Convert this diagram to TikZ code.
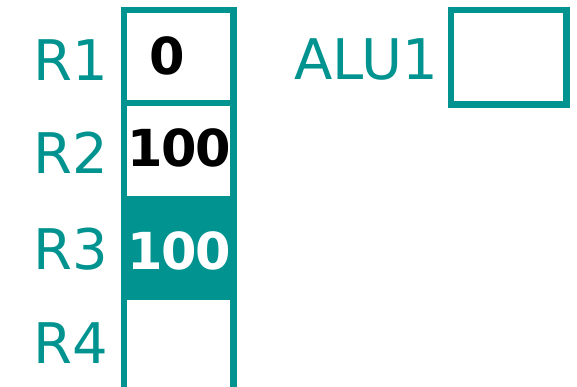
\documentclass[tikz,border=0pt]{standalone}
\usepackage{fontspec}
\setmainfont{DejaVu Sans}
\newfontfamily\valfont[LetterSpace=-3]{DejaVu Sans Bold}
\definecolor{teal1}{RGB}{0,147,143}
\begin{document}
\begin{tikzpicture}[x=1pt,y=-1pt,
  cell/.style={draw=teal1,line width=6.5pt,minimum width=109.5pt,minimum height=96.5pt,inner sep=0pt,outer sep=0pt},
  lbl/.style={text=teal1,font=\fontsize{56}{60}\selectfont,anchor=base,inner sep=0pt},
  val/.style={font=\fontsize{51}{56}\selectfont\valfont,anchor=base,inner sep=0pt}]
\useasboundingbox (0,0) rectangle (577,386);
\node[cell,minimum height=93pt] (c1) at (178.75,56.5) {};
\node[cell] (c2) at (178.75,151.25) {};
\node[cell,fill=teal1] (c3) at (178.75,248) {};
\node[cell] (c4) at (178.75,344.5) {};
\node[cell,minimum width=115.5pt,minimum height=94.5pt] (alu) at (508.75,57.25) {};
\node[lbl] (l1) at (71,80) {R1};
\node[lbl] (l2) at (71,173) {R2};
\node[lbl] (l3) at (71,269) {R3};
\node[lbl] (l4) at (71,363) {R4};
\node[lbl] (la) at (366,79) {ALU1};
\node[val] (v1) at (167.5,74) {0};
\node[val] (v2) at (179.5,166) {100};
\node[val,text=white] (v3) at (179.5,269) {100};
\end{tikzpicture}
\end{document}
